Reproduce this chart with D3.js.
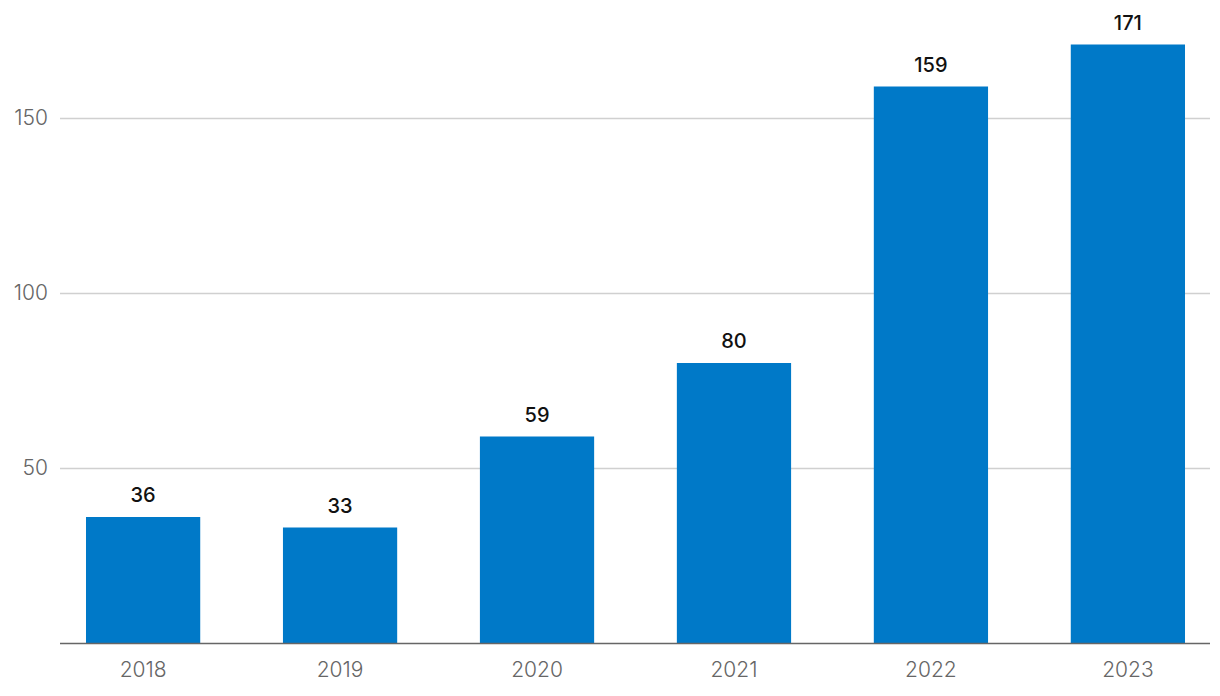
<!DOCTYPE html>
<html><head><meta charset="utf-8">
<script src="https://cdn.jsdelivr.net/npm/d3@7"></script>
<style>
html,body{margin:0;padding:0;background:#fff;}
svg{display:block;font-family:Inter, "Noto Sans", sans-serif;}
</style></head>
<body>
<svg id="chart" width="1220" height="696"></svg>
<script>
const years = ["2018","2019","2020","2021","2022","2023"];
const values = [36, 33, 59, 80, 159, 171];
const yTicks = [50, 100, 150];

(function () {
const svg = d3.select("#chart");
const plotLeft = 60, plotRight = 1211, plotBottom = 643;

const x = d3.scaleBand().domain(years).range([plotLeft, plotRight]).paddingInner(0.42).paddingOuter(0.132);
const y = d3.scaleLinear().domain([0, 150]).range([plotBottom, 118]);

// gridlines
svg.append("g").selectAll("line").data(yTicks).join("line")
  .attr("x1", plotLeft).attr("x2", 1210)
  .attr("y1", d => Math.round(y(d)) + 0.5).attr("y2", d => Math.round(y(d)) + 0.5)
  .attr("stroke", "#d0d0d0").attr("stroke-width", 1.4);

// y labels
svg.append("g").selectAll("text").data(yTicks).join("text")
  .attr("x", 48).attr("y", d => y(d))
  .attr("dy", "0.35em").attr("text-anchor", "end")
  .attr("font-size", 21).attr("font-weight", 300).attr("fill", "#666")
  .text(d => d);

// bars
svg.append("g").selectAll("rect").data(values).join("rect")
  .attr("x", (d, i) => x(years[i]))
  .attr("width", x.bandwidth())
  .attr("y", d => y(d))
  .attr("height", d => y(0) - y(d))
  .attr("fill", "#0079c8");

// value labels
svg.append("g").selectAll("text").data(values).join("text")
  .attr("x", (d, i) => x(years[i]) + x.bandwidth() / 2)
  .attr("y", d => y(d) - 15)
  .attr("text-anchor", "middle")
  .attr("font-size", 20).attr("font-weight", 500).attr("fill", "#111")
  .text(d => d);

// x axis
const xAxis = d3.axisBottom(x).tickSize(0).tickPadding(19);
const gx = svg.append("g").attr("transform", `translate(0,${plotBottom})`).call(xAxis);
gx.select(".domain").attr("d", `M${plotLeft},0.5H1210`).attr("stroke", "#666").attr("stroke-width", 1.5);
gx.selectAll("text").attr("font-size", 21).attr("font-weight", 300).attr("fill", "#666")
  .attr("font-family", 'Inter, "Noto Sans", sans-serif');
})();
</script>
</body></html>
